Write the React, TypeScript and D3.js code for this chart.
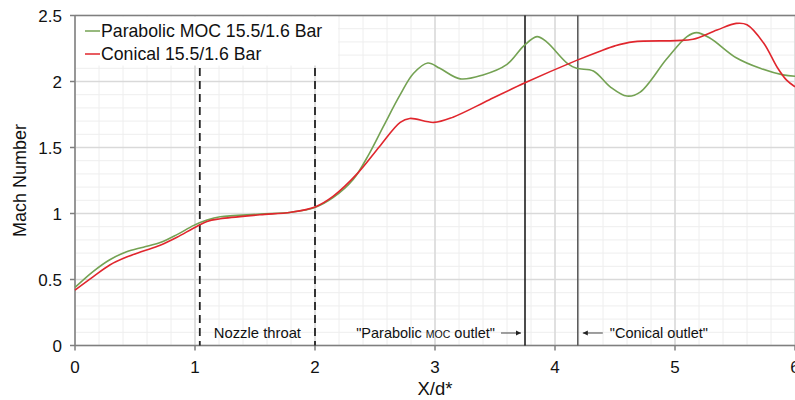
import React from 'react';
import * as d3 from 'd3';

// Parabolic MOC 15.5/1.6 Bar
const mocX = [0, 0.15, 0.29, 0.43, 0.57, 0.71, 0.85, 0.99, 1.1, 1.21, 1.54, 1.8, 2.0, 2.15, 2.32, 2.45, 2.57, 2.71, 2.82, 2.94, 3.04, 3.21, 3.4, 3.6, 3.74, 3.85, 3.93, 4.1, 4.18, 4.32, 4.46, 4.6, 4.71, 4.93, 5.1, 5.18, 5.29, 5.51, 5.71, 5.9, 6.0];
const mocY = [0.44, 0.56, 0.65, 0.71, 0.745, 0.78, 0.84, 0.91, 0.95, 0.975, 0.995, 1.01, 1.046, 1.12, 1.26, 1.45, 1.66, 1.9, 2.06, 2.14, 2.1, 2.02, 2.05, 2.13, 2.27, 2.34, 2.3, 2.14, 2.1, 2.08, 1.96, 1.89, 1.92, 2.17, 2.34, 2.37, 2.33, 2.18, 2.1, 2.05, 2.04];

// Conical 15.5/1.6 Bar
const conX = [0, 0.15, 0.29, 0.43, 0.57, 0.71, 0.85, 0.99, 1.1, 1.21, 1.54, 1.8, 2.0, 2.15, 2.36, 2.54, 2.71, 2.79, 2.99, 3.15, 3.45, 3.75, 4.18, 4.375, 4.5, 4.65, 5.01, 5.15, 5.35, 5.51, 5.6, 5.74, 5.85, 5.93, 6.0];
const conY = [0.42, 0.52, 0.61, 0.67, 0.715, 0.76, 0.82, 0.89, 0.94, 0.96, 0.99, 1.01, 1.05, 1.13, 1.31, 1.51, 1.69, 1.72, 1.69, 1.73, 1.86, 1.99, 2.16, 2.23, 2.27, 2.3, 2.31, 2.32, 2.39, 2.44, 2.43, 2.29, 2.11, 2.01, 1.96];

const xTicks = [0, 1, 2, 3, 4, 5, 6];
const yTicks = [0, 0.5, 1, 1.5, 2, 2.5];
const legendLabels = ['Parabolic MOC 15.5/1.6 Bar', 'Conical 15.5/1.6 Bar'];
const throatLines = [1.04, 2.0];
const outletLines = [3.75, 4.19];

const W = 795, H = 400;
const FONT = 'Arial, "Liberation Sans", sans-serif';

const App = () => {
    const ref = React.useRef<SVGSVGElement>(null);

    React.useEffect(() => {
        const svg = d3.select(ref.current);
        svg.selectAll('*').remove();

        const x = d3.scaleLinear().domain([0, 6]).range([75, 795]);
        const y = d3.scaleLinear().domain([0, 2.5]).range([345.5, 15.5]);

        const grid = svg.append('g');
        // minor grid
        d3.range(0, 6.001, 0.2).forEach(v => {
            grid.append('line').attr('x1', x(v)).attr('x2', x(v)).attr('y1', y(0)).attr('y2', y(2.5))
                .attr('stroke', '#eeeeee').attr('stroke-width', 1);
        });
        d3.range(0, 2.501, 0.1).forEach(v => {
            grid.append('line').attr('x1', x(0)).attr('x2', x(6)).attr('y1', y(v)).attr('y2', y(v))
                .attr('stroke', '#eeeeee').attr('stroke-width', 1);
        });
        // major grid
        xTicks.forEach(v => {
            grid.append('line').attr('x1', x(v)).attr('x2', x(v)).attr('y1', y(0)).attr('y2', y(2.5))
                .attr('stroke', '#d9d9d9').attr('stroke-width', 1.5);
        });
        yTicks.forEach(v => {
            grid.append('line').attr('x1', x(0)).attr('x2', x(6)).attr('y1', y(v)).attr('y2', y(v))
                .attr('stroke', '#d9d9d9').attr('stroke-width', 1.5);
        });

        // legend box hides grid
        svg.append('rect').attr('x', x(0) + 1).attr('y', y(2.5) + 1).attr('width', 262).attr('height', 49)
            .attr('fill', '#fff');

        // axes
        const axisColor = '#7f7f7f';
        svg.append('line').attr('x1', x(0)).attr('x2', x(0)).attr('y1', y(2.5)).attr('y2', y(0))
            .attr('stroke', axisColor).attr('stroke-width', 1.5);
        svg.append('line').attr('x1', x(0)).attr('x2', x(6)).attr('y1', y(0)).attr('y2', y(0))
            .attr('stroke', axisColor).attr('stroke-width', 1.5);
        svg.append('line').attr('x1', x(0)).attr('x2', x(6)).attr('y1', y(2.5)).attr('y2', y(2.5))
            .attr('stroke', axisColor).attr('stroke-width', 1.5);
        yTicks.forEach(v => {
            svg.append('line').attr('x1', x(0) - 5).attr('x2', x(0)).attr('y1', y(v)).attr('y2', y(v))
                .attr('stroke', axisColor).attr('stroke-width', 1.5);
            svg.append('text').attr('x', x(0) - 13).attr('y', y(v)).attr('dy', '0.36em')
                .attr('text-anchor', 'end').attr('font-family', FONT).attr('font-size', 17)
                .attr('fill', '#111').text(String(v));
        });
        xTicks.forEach(v => {
            svg.append('line').attr('x1', x(v)).attr('x2', x(v)).attr('y1', y(0)).attr('y2', y(0) + 5)
                .attr('stroke', axisColor).attr('stroke-width', 1.5);
            svg.append('text').attr('x', x(v)).attr('y', y(0) + 27)
                .attr('text-anchor', 'middle').attr('font-family', FONT).attr('font-size', 17)
                .attr('fill', '#111').text(String(v));
        });

        // axis titles
        svg.append('text').attr('transform', `translate(26,${(y(0) + y(2.5)) / 2}) rotate(-90)`)
            .attr('text-anchor', 'middle').attr('font-family', FONT).attr('font-size', 18)
            .attr('fill', '#111').text('Mach Number');
        svg.append('text').attr('x', 435).attr('y', 395)
            .attr('text-anchor', 'middle').attr('font-family', FONT).attr('font-size', 18.5)
            .attr('fill', '#111').text('X/d*');

        // throat dashed lines
        throatLines.forEach(v => {
            svg.append('line').attr('x1', x(v)).attr('x2', x(v)).attr('y1', 68).attr('y2', y(0))
                .attr('stroke', '#222').attr('stroke-width', 1.8).attr('stroke-dasharray', '8,5');
        });
        // outlet lines
        outletLines.forEach((v, i) => {
            svg.append('line').attr('x1', x(v)).attr('x2', x(v)).attr('y1', y(2.5)).attr('y2', y(0))
                .attr('stroke', i === 0 ? '#111' : '#555').attr('stroke-width', 1.5);
        });

        // curves
        const mocPts = mocX.map((v, i) => [x(v), y(mocY[i])] as [number, number]);
        const conPts = conX.map((v, i) => [x(v), y(conY[i])] as [number, number]);
        const lineGen = d3.line().curve(d3.curveCatmullRom.alpha(0.5));
        svg.append('path').attr('d', lineGen(mocPts)).attr('fill', 'none')
            .attr('stroke', '#74a253').attr('stroke-width', 1.6);
        svg.append('path').attr('d', lineGen(conPts)).attr('fill', 'none')
            .attr('stroke', '#e0262d').attr('stroke-width', 1.6);

        // legend
        const colors = ['#74a253', '#e0262d'];
        legendLabels.forEach((lab, i) => {
            const ly = 31 + i * 23;
            svg.append('line').attr('x1', 85).attr('x2', 100).attr('y1', ly).attr('y2', ly)
                .attr('stroke', colors[i]).attr('stroke-width', 1.5);
            svg.append('text').attr('x', 101).attr('y', ly).attr('dy', '0.36em')
                .attr('font-family', FONT).attr('font-size', 17.7).attr('fill', '#111').text(lab);
        });

        // annotations
        const annY = 338;
        svg.append('text').attr('x', (x(throatLines[0]) + x(throatLines[1])) / 2).attr('y', annY)
            .attr('text-anchor', 'middle').attr('font-family', FONT).attr('font-size', 14.8)
            .attr('fill', '#111').text('Nozzle throat');

        const pText = svg.append('text').attr('x', x(outletLines[0]) - 30).attr('y', annY)
            .attr('text-anchor', 'end').attr('font-family', FONT).attr('font-size', 14.5).attr('fill', '#111');
        pText.append('tspan').text('"Parabolic ');
        pText.append('tspan').attr('font-size', 10.5).text('MOC');
        pText.append('tspan').text(' outlet"');

        const arrow = (x1: number, x2: number) => {
            const ay = annY - 5;
            svg.append('line').attr('x1', x1).attr('x2', x2).attr('y1', ay).attr('y2', ay)
                .attr('stroke', '#444').attr('stroke-width', 1);
            const d = x2 > x1 ? -1 : 1;
            svg.append('path')
                .attr('d', `M${x2},${ay} L${x2 + d * 5},${ay - 2.5} L${x2 + d * 5},${ay + 2.5} Z`)
                .attr('fill', '#222');
        };
        arrow(x(outletLines[0]) - 24, x(outletLines[0]) - 4);
        arrow(x(outletLines[1]) + 25, x(outletLines[1]) + 5);

        svg.append('text').attr('x', x(outletLines[1]) + 32).attr('y', annY)
            .attr('font-family', FONT).attr('font-size', 14.5).attr('fill', '#111').text('"Conical outlet"');
    }, []);

    return (
        <svg ref={ref} width={W} height={H}
            style={{ position: 'absolute', left: 0, top: 0, background: '#fff' }} />
    );
};

export default App;
